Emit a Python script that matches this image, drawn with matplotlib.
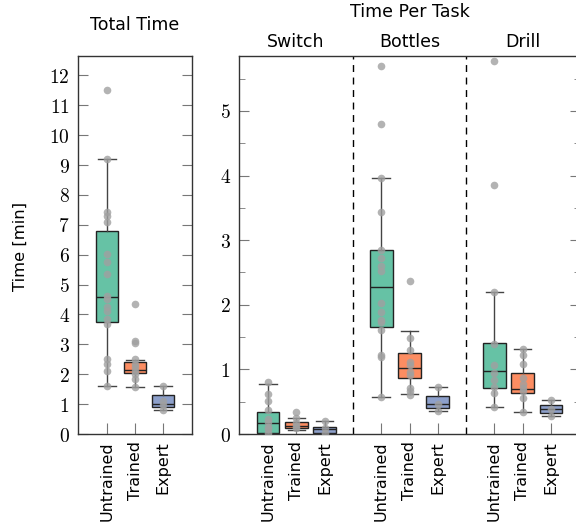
import matplotlib
matplotlib.use("Agg")
import matplotlib.pyplot as plt
from matplotlib.ticker import FuncFormatter, MultipleLocator

GROUPS = ["Untrained", "Trained", "Expert"]
COLORS = ["#66c2a5", "#fc8d62", "#8da0cb"]
TASKS = ["Switch", "Bottles", "Drill"]

# box stats: (whisker low, q1, median, q3, whisker high)
TOTAL_STATS = [
    (1.62, 3.74, 4.58, 6.81, 9.21),
    (1.56, 2.04, 2.14, 2.40, 2.48),
    (0.80, 0.92, 1.00, 1.31, 1.62),
]
TOTAL_POINTS = [
    [11.5, 9.2, 7.42, 7.28, 7.09, 6.03, 5.75, 5.36, 4.63, 4.52, 4.24, 4.13,
     3.85, 3.68, 2.51, 2.34, 2.12, 1.62],
    [4.35, 3.10, 3.05, 2.51, 2.34, 2.23, 2.12, 2.01, 1.84, 1.56],
    [1.62, 1.12, 0.97, 0.80],
]

TASK_STATS = {
    "Switch": [
        (0.00, 0.02, 0.165, 0.34, 0.78),
        (0.06, 0.10, 0.13, 0.18, 0.24),
        (0.00, 0.02, 0.07, 0.11, 0.20),
    ],
    "Bottles": [
        (0.58, 1.65, 2.27, 2.84, 3.96),
        (0.62, 0.86, 1.02, 1.25, 1.60),
        (0.35, 0.41, 0.46, 0.59, 0.72),
    ],
    "Drill": [
        (0.42, 0.71, 0.975, 1.41, 2.20),
        (0.34, 0.63, 0.69, 0.94, 1.32),
        (0.28, 0.33, 0.39, 0.45, 0.53),
    ],
}
TASK_POINTS = {
    "Switch": [
        [0.80, 0.62, 0.51, 0.37, 0.23, 0.18, 0.11, 0.07, 0.01],
        [0.34, 0.24, 0.17, 0.12, 0.09],
        [0.20, 0.09, 0.02],
    ],
    "Bottles": [
        [5.70, 4.79, 3.96, 3.43, 2.85, 2.72, 2.60, 2.52, 2.02, 1.89, 1.77,
         1.74, 1.61, 1.22, 1.19, 0.58],
        [2.37, 1.48, 1.30, 1.12, 1.07, 0.96, 0.91, 0.71, 0.66, 0.60],
        [0.72, 0.47, 0.35],
    ],
    "Drill": [
        [5.78, 3.85, 2.20, 1.39, 1.07, 0.94, 0.84, 0.73, 0.63, 0.42],
        [1.32, 1.22, 1.08, 0.86, 0.78, 0.71, 0.66, 0.55, 0.34],
        [0.53, 0.39, 0.28],
    ],
}

plt.rcParams.update({
    "font.family": "DejaVu Sans",
    "font.size": 12,
    "mathtext.fontset": "cm",
})

SPINE = "#333333"
TICK = "#777777"


def draw_boxes(ax, positions, stats, points):
    bstats = []
    for (lo, q1, med, q3, hi) in stats:
        bstats.append({"whislo": lo, "q1": q1, "med": med, "q3": q3, "whishi": hi, "fliers": []})
    art = ax.bxp(bstats, positions=positions, widths=0.8, capwidths=0.62,
                 patch_artist=True, showfliers=False, manage_ticks=False,
                 boxprops=dict(edgecolor="#222222", linewidth=1.0),
                 medianprops=dict(color="#222222", linewidth=1.0),
                 whiskerprops=dict(color="#444444", linewidth=1.0),
                 capprops=dict(color="#444444", linewidth=1.0))
    for patch, c in zip(art["boxes"], COLORS):
        patch.set_facecolor(c)
    for x, pts in zip(positions, points):
        ax.plot([x] * len(pts), pts, "o", color="#a0a0a0", alpha=0.8,
                markersize=5.5, markeredgewidth=0, zorder=5)


def style(ax):
    for s in ax.spines.values():
        s.set_color(SPINE)
        s.set_linewidth(1.0)
    ax.tick_params(axis="both", which="both", direction="in", color=TICK,
                   labelcolor="black")
    ax.tick_params(axis="y", which="both", left=True, right=True)
    ax.tick_params(axis="y", which="major", length=7, labelsize=14, pad=6)
    ax.tick_params(axis="y", which="minor", length=4)
    ax.tick_params(axis="x", which="major", length=8, labelsize=11.5,
                   labelrotation=90, top=False, pad=5)
    ax.yaxis.set_major_formatter(FuncFormatter(lambda v, p: f"${int(round(v))}$"))


fig = plt.figure(figsize=(5.76, 5.24), dpi=100)
W, H = 576, 524

# total time panel
ax1 = fig.add_axes([78 / W, (H - 434) / H, 114 / W, 378 / H])
draw_boxes(ax1, [1, 2, 3], TOTAL_STATS, TOTAL_POINTS)
ax1.set_xlim(-0.04, 4.04)
ax1.set_ylim(0, 12.65)
ax1.yaxis.set_major_locator(MultipleLocator(1))
ax1.set_xticks([1, 2, 3])
ax1.set_xticklabels(GROUPS)
style(ax1)

# per task panel
ax2 = fig.add_axes([239 / W, (H - 434) / H, 341 / W, 378 / H])
xticks = []
for i, task in enumerate(TASKS):
    pos = [4 * i + 1, 4 * i + 2, 4 * i + 3]
    xticks += pos
    draw_boxes(ax2, pos, TASK_STATS[task], TASK_POINTS[task])
for x in (4, 8):
    ax2.axvline(x, color="black", linestyle=(0, (5, 4)), linewidth=1.0)
ax2.set_xlim(-0.03, 12.03)
ax2.set_ylim(0, 5.85)
ax2.yaxis.set_major_locator(MultipleLocator(1))
ax2.yaxis.set_minor_locator(MultipleLocator(0.5))
ax2.set_xticks(xticks)
ax2.set_xticklabels(GROUPS * 3)
style(ax2)

fig.text(20 / W, 1 - 246 / H, "Time [min]", rotation=90, ha="center", va="center", fontsize=11.8)
fig.text(135 / W, 1 - 25 / H, "Total Time", ha="center", va="center", fontsize=12.5)
fig.text(410 / W, 1 - 12 / H, "Time Per Task", ha="center", va="center", fontsize=12.5)
for task, xc in zip(TASKS, (296, 410, 523)):
    fig.text(xc / W, 1 - 42 / H, task, ha="center", va="center", fontsize=12.5)

fig.savefig("out.png", dpi=100)
